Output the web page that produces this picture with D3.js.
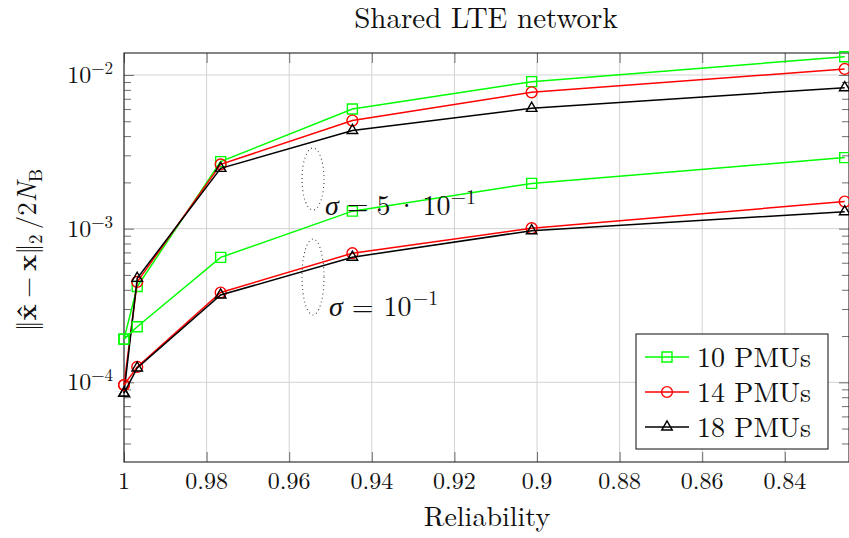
<!DOCTYPE html>
<html>
<head>
<meta charset="utf-8">
<script src="https://cdn.jsdelivr.net/npm/d3@7/dist/d3.min.js"></script>
<style>
  body { margin: 0; background: #fff; }
</style>
</head>
<body>
<svg id="chart" width="849" height="538"></svg>
<script>
// reliability values shared by every curve
const reliability = [1, 0.9968, 0.9766, 0.9447, 0.9013, 0.8255];

// sigma = 5e-1 (upper bundle)
const pmu10Sigma5 = [1.91e-4, 4.2e-4, 2.73e-3, 6.0e-3, 9.05e-3, 1.315e-2];
const pmu14Sigma5 = [9.6e-5, 4.5e-4, 2.62e-3, 5.05e-3, 7.71e-3, 1.094e-2];
const pmu18Sigma5 = [8.5e-5, 4.75e-4, 2.47e-3, 4.35e-3, 6.07e-3, 8.27e-3];

// sigma = 1e-1 (lower bundle)
const pmu10Sigma1 = [1.91e-4, 2.3e-4, 6.5e-4, 1.30e-3, 1.97e-3, 2.9e-3];
const pmu14Sigma1 = [9.6e-5, 1.26e-4, 3.84e-4, 6.92e-4, 1.007e-3, 1.5e-3];
const pmu18Sigma1 = [8.5e-5, 1.24e-4, 3.7e-4, 6.52e-4, 9.7e-4, 1.29e-3];

const legendLabels = ['10 PMUs', '14 PMUs', '18 PMUs'];
const xTickValues = [1, 0.98, 0.96, 0.94, 0.92, 0.9, 0.88, 0.86, 0.84];
const yTickExponents = [-4, -3, -2];

// styles per PMU count
const colors = ['#00ff00', '#ff0000', '#000000'];
const symbols = [d3.symbolSquare, d3.symbolCircle, d3.symbolTriangle];
const symbolSizes = [100, 92, 48];
const FONT = '"Latin Modern Roman", "Liberation Serif", serif';

const margin = {top: 53, right: 0, bottom: 76, left: 124};
const W = 849, H = 538;

const svg = d3.select('#chart');

const x = d3.scaleLinear()
    .domain([1, 0.82446])
    .range([margin.left, W - margin.right]);

const y = d3.scaleLog()
    .domain([3.03e-5, 0.0139])
    .range([H - margin.bottom, margin.top]);

const plotBottom = H - margin.bottom;
const plotRight = W - margin.right;

// minor tick values in log scale
const minorTicks = [];
for (let e = -5; e <= -2; e++) {
    for (let m = 2; m <= 9; m++) {
        const v = m * Math.pow(10, e);
        if (v > y.domain()[0] && v < y.domain()[1]) minorTicks.push(v);
    }
}
const majorTicks = yTickExponents.map(e => Math.pow(10, e));

// grid
const grid = svg.append('g').attr('stroke', '#d2d2d2').attr('stroke-width', 1);
grid.selectAll('line.gx')
    .data(xTickValues)
    .join('line')
    .attr('x1', d => x(d)).attr('x2', d => x(d))
    .attr('y1', margin.top).attr('y2', plotBottom);
grid.selectAll('line.gy')
    .data(majorTicks)
    .join('line')
    .attr('class', 'gy')
    .attr('x1', margin.left).attr('x2', plotRight)
    .attr('y1', d => y(d)).attr('y2', d => y(d));

// ticks (inward, on all four sides)
function styleAxis(g) {
    g.select('.domain').remove();
    g.selectAll('.tick line').attr('stroke', '#6e6e6e');
    g.selectAll('.tick text').remove();
}
svg.append('g').attr('transform', `translate(0,${plotBottom})`)
    .call(d3.axisBottom(x).tickValues(xTickValues).tickSize(-10)).call(styleAxis);
svg.append('g').attr('transform', `translate(0,${margin.top})`)
    .call(d3.axisTop(x).tickValues(xTickValues).tickSize(-10)).call(styleAxis);
svg.append('g').attr('transform', `translate(${margin.left},0)`)
    .call(d3.axisLeft(y).tickValues(majorTicks).tickSize(-10)).call(styleAxis);
svg.append('g').attr('transform', `translate(${margin.left},0)`)
    .call(d3.axisLeft(y).tickValues(minorTicks).tickSize(-7)).call(styleAxis);
svg.append('g').attr('transform', `translate(${plotRight},0)`)
    .call(d3.axisRight(y).tickValues(majorTicks).tickSize(-10)).call(styleAxis);
svg.append('g').attr('transform', `translate(${plotRight},0)`)
    .call(d3.axisRight(y).tickValues(minorTicks).tickSize(-7)).call(styleAxis);

// frame
svg.append('rect')
    .attr('x', margin.left).attr('y', margin.top)
    .attr('width', plotRight - margin.left).attr('height', plotBottom - margin.top)
    .attr('fill', 'none').attr('stroke', '#222').attr('stroke-width', 1.1);

// x tick labels
svg.append('g').selectAll('text')
    .data(xTickValues)
    .join('text')
    .attr('x', d => x(d))
    .attr('y', 489)
    .attr('text-anchor', 'middle')
    .attr('font-family', FONT)
    .attr('font-size', 24)
    .attr('fill', '#111')
    .text(d => d === 1 ? '1' : String(d));

// y tick labels 10^e
const yLab = svg.append('g').selectAll('text')
    .data(yTickExponents)
    .join('text')
    .attr('x', 113)
    .attr('y', e => y(Math.pow(10, e)) + 8)
    .attr('text-anchor', 'end')
    .attr('font-family', FONT)
    .attr('font-size', 24)
    .attr('fill', '#111');
yLab.append('tspan').text('10');
yLab.append('tspan').attr('dy', -9).attr('font-size', 17).text(e => '\u2212' + Math.abs(e));

// curves
const lineGen = d3.line()
    .x((d, i) => x(reliability[i]))
    .y(d => y(d));

const curves = [
    {values: pmu10Sigma5, k: 0}, {values: pmu14Sigma5, k: 1}, {values: pmu18Sigma5, k: 2},
    {values: pmu10Sigma1, k: 0}, {values: pmu14Sigma1, k: 1}, {values: pmu18Sigma1, k: 2}
];

curves.forEach(c => {
    const g = svg.append('g');
    g.append('path')
        .datum(c.values)
        .attr('d', lineGen)
        .attr('fill', 'none')
        .attr('stroke', colors[c.k])
        .attr('stroke-width', 1.5);
    g.selectAll('path.mark')
        .data(c.values)
        .join('path')
        .attr('class', 'mark')
        .attr('transform', (d, i) => `translate(${x(reliability[i])},${y(d)})`)
        .attr('d', d3.symbol().type(symbols[c.k]).size(symbolSizes[c.k]))
        .attr('fill', 'none')
        .attr('stroke', colors[c.k])
        .attr('stroke-width', 1.4);
});

// dotted ellipses marking the bundles
[{cx: 313, cy: 179, ry: 31}, {cx: 313, cy: 277, ry: 38}].forEach(e => {
    svg.append('ellipse')
        .attr('cx', e.cx).attr('cy', e.cy)
        .attr('rx', 11).attr('ry', e.ry)
        .attr('fill', 'none')
        .attr('stroke', '#333')
        .attr('stroke-width', 1.1)
        .attr('stroke-dasharray', '0.9 3.2');
});

// sigma annotations (TeX-like spacing via dx)
function sigmaLabel(xPos, yPos, parts) {
    const t = svg.append('text')
        .attr('x', xPos).attr('y', yPos)
        .attr('font-family', FONT)
        .attr('font-size', 28)
        .attr('fill', '#111');
    parts.forEach(p => {
        const s = t.append('tspan').text(p.t);
        if (p.dx) s.attr('dx', p.dx);
        if (p.dy) s.attr('dy', p.dy);
        if (p.italic) s.attr('font-style', 'italic');
        if (p.size) s.attr('font-size', p.size);
    });
}
sigmaLabel(325, 215, [
    {t: '\u03c3', italic: true},
    {t: '=', dx: 8},
    {t: '5', dx: 8},
    {t: '\u00b7', dx: 5},
    {t: '10', dx: 5},
    {t: '\u22121', dy: -11, size: 20}
]);
sigmaLabel(329, 316, [
    {t: '\u03c3', italic: true},
    {t: '=', dx: 9},
    {t: '10', dx: 10},
    {t: '\u22121', dy: -11, dx: 1, size: 20}
]);

// title and axis labels
svg.append('text')
    .attr('x', 486).attr('y', 28)
    .attr('text-anchor', 'middle')
    .attr('font-family', FONT)
    .attr('font-size', 29)
    .attr('fill', '#111')
    .text('Shared LTE network');

svg.append('text')
    .attr('x', 487).attr('y', 526)
    .attr('text-anchor', 'middle')
    .attr('font-family', FONT)
    .attr('font-size', 28)
    .attr('fill', '#111')
    .text('Reliability');

const yTitle = svg.append('text')
    .attr('transform', 'translate(36,250) rotate(-90)')
    .attr('text-anchor', 'middle')
    .attr('font-family', FONT)
    .attr('font-size', 27)
    .attr('fill', '#111');
yTitle.append('tspan').text('\u2016');
yTitle.append('tspan').attr('font-weight', 'bold').text('x\u0302');
yTitle.append('tspan').attr('dx', 6).text('\u2212');
yTitle.append('tspan').attr('dx', 6).attr('font-weight', 'bold').text('x');
yTitle.append('tspan').text('\u2016');
yTitle.append('tspan').attr('font-size', 19).attr('dy', 6).text('2');
yTitle.append('tspan').attr('dy', -6).attr('dx', 5).text('/2');
yTitle.append('tspan').attr('font-style', 'italic').text('N');
yTitle.append('tspan').attr('font-size', 19).attr('dy', 6).text('B');

// legend
const legend = svg.append('g');
legend.append('rect')
    .attr('x', 636).attr('y', 334)
    .attr('width', 192).attr('height', 115)
    .attr('fill', '#fff')
    .attr('stroke', '#222')
    .attr('stroke-width', 1.1);
const entries = legend.selectAll('g.entry')
    .data(legendLabels)
    .join('g')
    .attr('transform', (d, i) => `translate(0,${357 + i * 35})`);
entries.append('line')
    .attr('x1', 645).attr('x2', 689)
    .attr('stroke', (d, i) => colors[i])
    .attr('stroke-width', 1.5);
entries.append('path')
    .attr('transform', 'translate(667,0)')
    .attr('d', (d, i) => d3.symbol().type(symbols[i]).size(symbolSizes[i])())
    .attr('fill', 'none')
    .attr('stroke', (d, i) => colors[i])
    .attr('stroke-width', 1.4);
entries.append('text')
    .attr('x', 697).attr('y', 9.5)
    .attr('font-family', FONT)
    .attr('font-size', 28)
    .attr('fill', '#111')
    .text(d => d);
</script>
</body>
</html>
